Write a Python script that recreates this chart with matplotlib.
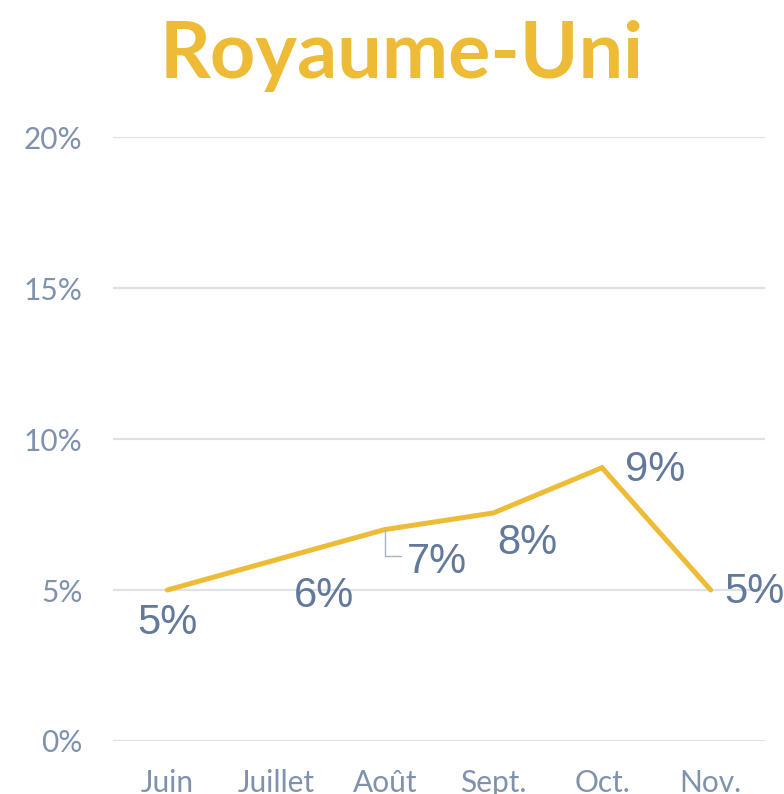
import numpy as np
import matplotlib.pyplot as plt

# data
months = ['Juin', 'Juillet', 'Août', 'Sept.', 'Oct.', 'Nov.']
values = [5.0, 6.0, 7.0, 7.55, 9.05, 5.0]
labels = ['5%', '6%', '7%', '8%', '9%', '5%']
yticks = [0, 5, 10, 15, 20]

gold = '#EDBB36'
label_col = '#62799A'
tick_col = '#7F92AD'
grid_col = '#DDE1E8'

fig = plt.figure(figsize=(7.84, 7.94), dpi=100)
ax = fig.add_axes([113/784, 53/794, (765-113)/784, (741-137)/794])

x = np.arange(len(months))
ax.plot(x, values, color=gold, lw=3.6, solid_joinstyle='miter', solid_capstyle='round', zorder=3)

ax.set_xlim(-0.5, len(months) - 0.5)
ax.set_ylim(0, 20)
ax.set_yticks(yticks)
ax.set_yticklabels([f'{t}%' for t in yticks])
ax.set_xticks(x)
ax.set_xticklabels(months)

ax.grid(axis='y', color=grid_col, lw=1.6)
ax.set_axisbelow(True)
for s in ax.spines.values():
    s.set_visible(False)
ax.tick_params(length=0, colors=tick_col, labelsize=21.5)
ax.tick_params(axis='y', pad=22)
ax.tick_params(axis='x', pad=20)
for t in ax.get_xticklabels() + ax.get_yticklabels():
    t.set_fontfamily('Lato')

# data labels (pixel offsets from each point)
offsets = [(0, -33), (48, -36), (52, -32), (34, -30), (53, -2), (44, -2)]
for i, (v, lab) in enumerate(zip(values, labels)):
    kw = {}
    if i == 2:
        kw = dict(arrowprops=dict(arrowstyle='-', color='#A8B3C4', lw=1.0,
                                  connectionstyle='angle,angleA=0,angleB=90',
                                  relpos=(0.0, 0.65), shrinkA=2, shrinkB=0))
    ax.annotate(lab, (i, v), xytext=offsets[i], textcoords='offset pixels',
                ha='center', va='center', fontsize=30, color=label_col,
                family='Liberation Sans', annotation_clip=False, **kw)

fig.text(402/784, 1 - 78/794, 'Royaume-Uni', ha='center', va='baseline',
         fontsize=57, fontweight='bold', color=gold, family='Lato')

fig.savefig('out.png', dpi=100)
